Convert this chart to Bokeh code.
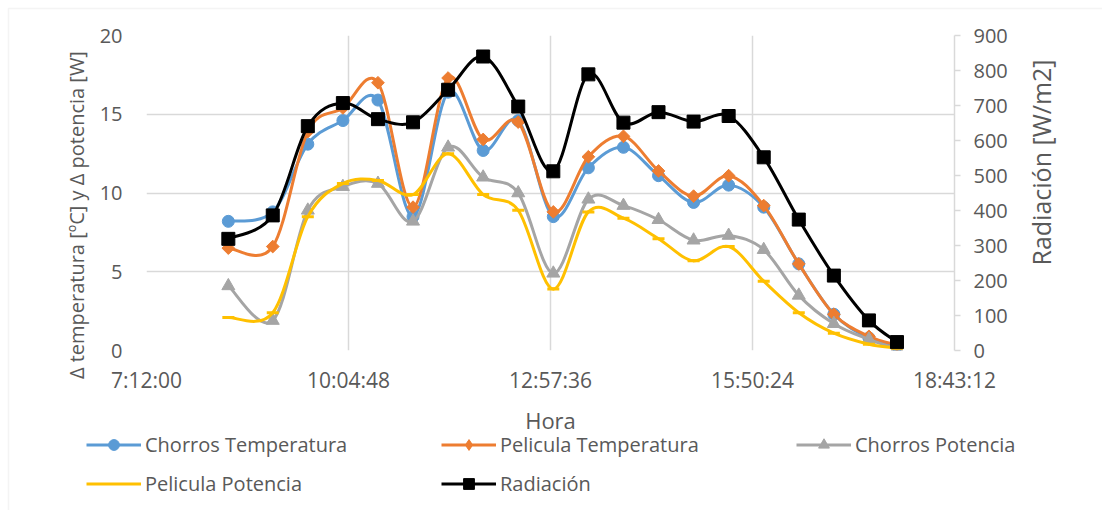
import math
from bokeh.plotting import figure
from bokeh.models import (Range1d, LinearAxis, FixedTicker, Legend, LegendItem,
                          Label, BoxAnnotation)
from bokeh.embed import file_html
from bokeh.resources import INLINE

# ---------------- data ----------------
hora = ["8:22", "9:00", "9:30", "10:00", "10:30", "11:00", "11:30", "12:00",
        "12:30", "13:00", "13:30", "14:00", "14:30", "15:00", "15:30", "16:00",
        "16:30", "17:00", "17:30", "17:54"]
chorros_temperatura = [8.2, 8.8, 13.1, 14.6, 15.9, 8.5, 16.4, 12.7, 14.6, 8.5,
                       11.6, 12.9, 11.1, 9.4, 10.5, 9.1, 5.5, 2.3, 0.8, 0.3]
pelicula_temperatura = [6.5, 6.6, 13.9, 15.4, 17.0, 9.1, 17.3, 13.4, 14.5, 8.8,
                        12.3, 13.6, 11.4, 9.8, 11.1, 9.2, 5.5, 2.3, 0.9, 0.35]
chorros_potencia = [4.1, 1.9, 8.9, 10.4, 10.6, 8.2, 12.9, 11.0, 10.0, 4.9,
                    9.6, 9.2, 8.3, 7.0, 7.3, 6.4, 3.5, 1.7, 0.7, 0.1]
pelicula_potencia = [2.1, 2.4, 8.5, 10.6, 10.8, 9.9, 12.5, 9.9, 8.9, 3.9,
                     8.8, 8.4, 7.1, 5.7, 6.6, 4.4, 2.4, 1.1, 0.4, 0.15]
radiacion = [319, 386, 641, 707, 661, 652, 745, 840, 697, 512,
             789, 651, 681, 654, 670, 552, 374, 214, 86, 24]

x_tick_labels = ["7:12:00", "10:04:48", "12:57:36", "15:50:24", "18:43:12"]
y_left_ticks = [0, 5, 10, 15, 20]
y_right_ticks = [0, 100, 200, 300, 400, 500, 600, 700, 800, 900]


def to_seconds(s):
    parts = [int(v) for v in s.split(":")]
    while len(parts) < 3:
        parts.append(0)
    return parts[0] * 3600 + parts[1] * 60 + parts[2]


xs = [to_seconds(h) for h in hora]
x_ticks = [to_seconds(t) for t in x_tick_labels]

FONT = "Open Sans"
TXT = "#595959"
GRID = "#D9D9D9"
W, H = 1102, 510

p = figure(width=W, height=H, output_backend="svg", toolbar_location=None,
           x_range=Range1d(x_ticks[0], x_ticks[-1]), y_range=Range1d(0, 20),
           min_border_left=146, min_border_right=148, min_border_top=35,
           min_border_bottom=160, background_fill_color="white",
           border_fill_color="white", outline_line_color=None)
p.extra_y_ranges = {"rad": Range1d(0, 900)}

# x axis
p.xaxis.ticker = FixedTicker(ticks=x_ticks)
p.xaxis.major_label_overrides = {t: l for t, l in zip(x_ticks, x_tick_labels)}
p.xaxis.axis_line_color = None
p.xaxis.major_tick_line_color = None
p.xaxis.major_tick_out = 0
p.xaxis.minor_tick_line_color = None
p.xaxis.major_label_standoff = 15
p.xaxis.major_label_text_font = FONT
p.xaxis.major_label_text_font_size = "21px"
p.xaxis.major_label_text_color = TXT
p.xaxis.axis_label = "Hora"
p.xaxis.axis_label_text_font = FONT
p.xaxis.axis_label_text_font_size = "22px"
p.xaxis.axis_label_text_font_style = "normal"
p.xaxis.axis_label_text_color = TXT
p.xaxis.axis_label_standoff = 8

# left y axis
p.yaxis.ticker = FixedTicker(ticks=y_left_ticks)
p.yaxis.axis_line_color = None
p.yaxis.major_tick_line_color = None
p.yaxis.major_tick_out = 0
p.yaxis.minor_tick_line_color = None
p.yaxis.major_label_standoff = 24
p.yaxis.major_label_text_font = FONT
p.yaxis.major_label_text_font_size = "20px"
p.yaxis.major_label_text_color = TXT

# right y axis
raxis = LinearAxis(y_range_name="rad", ticker=FixedTicker(ticks=y_right_ticks))
raxis.axis_line_color = GRID
raxis.axis_line_width = 1.5
raxis.major_tick_line_color = GRID
raxis.major_tick_line_width = 1.5
raxis.major_tick_out = 6
raxis.major_tick_in = 0
raxis.minor_tick_line_color = None
raxis.major_label_standoff = 13
raxis.major_label_text_font = FONT
raxis.major_label_text_font_size = "20px"
raxis.major_label_text_color = TXT
p.add_layout(raxis, "right")

p.xgrid.ticker = FixedTicker(ticks=x_ticks)
p.xgrid.grid_line_color = GRID
p.xgrid.grid_line_width = 1.5
p.ygrid.grid_line_color = GRID
p.ygrid.grid_line_width = 1.5


def smooth(xv, yv):
    n = len(xv)
    d = dict(x0=[], y0=[], x1=[], y1=[], cx0=[], cy0=[], cx1=[], cy1=[])
    for i in range(n - 1):
        im = max(i - 1, 0)
        ip = min(i + 2, n - 1)
        d["x0"].append(xv[i]); d["y0"].append(yv[i])
        d["x1"].append(xv[i + 1]); d["y1"].append(yv[i + 1])
        d["cx0"].append(xv[i] + (xv[i + 1] - xv[im]) / 6)
        d["cy0"].append(yv[i] + (yv[i + 1] - yv[im]) / 6)
        d["cx1"].append(xv[i + 1] - (xv[ip] - xv[i]) / 6)
        d["cy1"].append(yv[i + 1] - (yv[ip] - yv[i]) / 6)
    return d


# name, values, colour, marker, size, angle, legend marker, y range
series = [
    ("Chorros Temperatura", chorros_temperatura, "#5B9BD5", "circle", 12, 0, "circle", "default"),
    ("Pelicula Temperatura", pelicula_temperatura, "#ED7D31", "square", 9, math.pi / 4, "diamond", "default"),
    ("Chorros Potencia", chorros_potencia, "#A5A5A5", "triangle", 13, 0, "triangle", "default"),
    ("Pelicula Potencia", pelicula_potencia, "#FFC000", "dash", 12, 0, None, "default"),
    ("Radiación", radiacion, "#000000", "square", 13, 0, "square", "rad"),
]

for name, ys, color, marker, size, ang, lmark, rng in series:
    d = smooth(xs, ys)
    p.bezier(x0="x0", y0="y0", x1="x1", y1="y1", cx0="cx0", cy0="cy0",
             cx1="cx1", cy1="cy1", source=d, line_color=color, line_width=3,
             line_cap="round", y_range_name=rng)
    if marker == "dash":
        p.scatter(xs, ys, marker="dash", size=size, line_color=color,
                  line_width=3, y_range_name=rng)
    else:
        p.scatter(xs, ys, marker=marker, size=size, angle=ang,
                  fill_color=color, line_color=color, y_range_name=rng)

# ------------- transparent overlay: axis titles, legend, chart border -------------
ov = figure(width=W, height=H, output_backend="svg", toolbar_location=None,
            title=None, x_range=Range1d(0, 1), y_range=Range1d(0, 1),
            x_axis_location=None, y_axis_location=None,
            min_border=0, min_border_left=0, min_border_right=0,
            min_border_top=0, min_border_bottom=0,
            outline_line_color=None, border_fill_color=None,
            background_fill_color=None)
ov.grid.visible = False
ov.styles = {"position": "absolute", "top": "0px", "left": "0px"}

items = []
for name, ys, color, marker, size, ang, lmark, rng in series:
    lr = ov.line(xs, ys, line_color=color, line_width=3, visible=False)
    rs = [lr]
    if lmark is not None:
        sr = ov.scatter(xs, ys, marker=lmark, size=size,
                        fill_color=color, line_color=color, visible=False)
        rs.append(sr)
    items.append(LegendItem(label=name, renderers=rs))

legend = Legend(items=items, location=(86, 13), orientation="horizontal", ncols=3,
                border_line_color=None, background_fill_alpha=0, padding=0, margin=0,
                spacing=12, glyph_width=55, glyph_height=27, label_height=27,
                label_width=284, label_standoff=4, label_text_font=FONT,
                label_text_font_size="20px", label_text_color=TXT,
                inactive_fill_alpha=0)
ov.add_layout(legend, "center")

ov.add_layout(Label(x=76, y=H - 212, x_units="screen", y_units="screen",
                    text="Δ temperatura [ºC] y Δ  potencia [W]", angle=math.pi / 2,
                    text_align="center", text_baseline="middle", text_font=FONT,
                    text_font_size="20px", text_color=TXT))
ov.add_layout(Label(x=1040, y=H - 162, x_units="screen", y_units="screen",
                    text="Radiación [W/m2]", angle=math.pi / 2,
                    text_align="center", text_baseline="middle", text_font=FONT,
                    text_font_size="25px", text_color=TXT))
ov.add_layout(BoxAnnotation(left=8, right=W + 50, top=H - 8, bottom=-50,
                            left_units="screen", right_units="screen",
                            top_units="screen", bottom_units="screen",
                            fill_alpha=0, line_color=GRID, line_width=1.5))

open("out.html", "w").write(file_html([p, ov], INLINE))
